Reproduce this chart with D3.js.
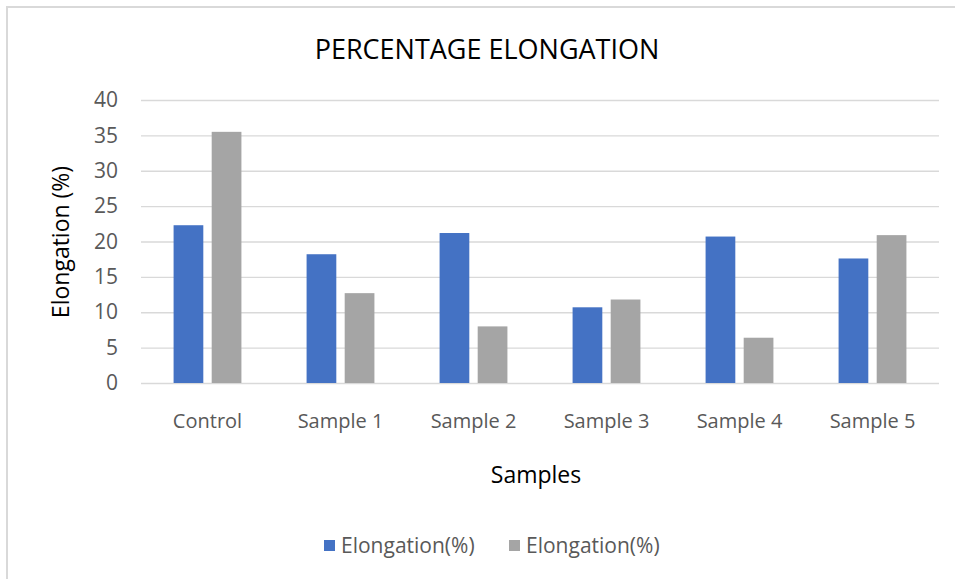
<!DOCTYPE html>
<html><head><meta charset="utf-8">
<script src="https://cdn.jsdelivr.net/npm/d3@7"></script>
<style>body{margin:0;background:#fff}svg{display:block}</style>
</head><body>
<script>
const categories = ["Control","Sample 1","Sample 2","Sample 3","Sample 4","Sample 5"];
const seriesNames = ["Elongation(%)","Elongation(%)"];
const series1 = [22.3, 18.2, 21.2, 10.7, 20.7, 17.6];
const series2 = [35.5, 12.7, 8.0, 11.8, 6.4, 20.9];
const yTicks = [0,5,10,15,20,25,30,35,40];
const colors = ["#4472c4","#a5a5a5"];

const W=955,H=579;
const svg=d3.select("body").append("svg").attr("width",W).attr("height",H);
const font="'Open Sans', sans-serif";
svg.append("rect").attr("x",7).attr("y",7).attr("width",W+10).attr("height",H+10)
  .attr("fill","#fff").attr("stroke","#d9d9d9").attr("stroke-width",2);

const m={l:141,r:939,t:100,b:383};
const y=d3.scaleLinear().domain([0,40]).range([m.b,m.t]);
const x0=d3.scaleBand().domain(categories).range([m.l,m.r]).paddingInner(0.49).paddingOuter(0.245);
const x1=d3.scaleBand().domain([0,1]).range([0,x0.bandwidth()]).paddingInner(0.22);

const yAxis=d3.axisLeft(y).tickValues(yTicks).tickSize(-(m.r-m.l)).tickPadding(23);
const gy=svg.append("g").attr("transform",`translate(${m.l},0)`).call(yAxis);
gy.select(".domain").remove();
gy.selectAll(".tick line").attr("stroke","#d9d9d9").attr("stroke-width",1.3);
gy.selectAll(".tick text").attr("fill","#595959").style("font-family",font).style("font-size","21px");

const data=categories.map((c,i)=>({c,v:[series1[i],series2[i]]}));
const g=svg.append("g");
g.selectAll("g").data(data).join("g").attr("transform",d=>`translate(${x0(d.c)},0)`)
 .selectAll("rect").data(d=>d.v.map((v,k)=>({v,k}))).join("rect")
 .attr("x",d=>x1(d.k)).attr("width",x1.bandwidth())
 .attr("y",d=>y(d.v)).attr("height",d=>y(0)-y(d.v))
 .attr("fill",d=>colors[d.k]);

const xAxis=d3.axisBottom(x0).tickSize(0).tickPadding(31);
const gx=svg.append("g").attr("transform",`translate(0,${m.b})`).call(xAxis);
gx.select(".domain").remove();
gx.selectAll(".tick text").attr("fill","#595959").style("font-family",font).style("font-size","20px");

svg.append("text").attr("x",487).attr("y",59).attr("text-anchor","middle")
  .style("font-family",font).style("font-size","27px").attr("fill","#000").text("PERCENTAGE ELONGATION");
svg.append("text").attr("x",536).attr("y",483).attr("text-anchor","middle")
  .style("font-family",font).style("font-size","23px").attr("fill","#000").text("Samples");
svg.append("text").attr("transform","translate(69,242) rotate(-90)").attr("text-anchor","middle")
  .style("font-family",font).style("font-size","23px").attr("fill","#000").text("Elongation (%)");

const lg=svg.append("g");
const lx=[324,509];
seriesNames.forEach((n,k)=>{
  lg.append("rect").attr("x",lx[k]).attr("y",540).attr("width",11).attr("height",11).attr("fill",colors[k]);
  lg.append("text").attr("x",lx[k]+17).attr("y",553).style("font-family",font).style("font-size","21px")
   .attr("fill","#595959").text(n);
});
</script>
</body></html>
